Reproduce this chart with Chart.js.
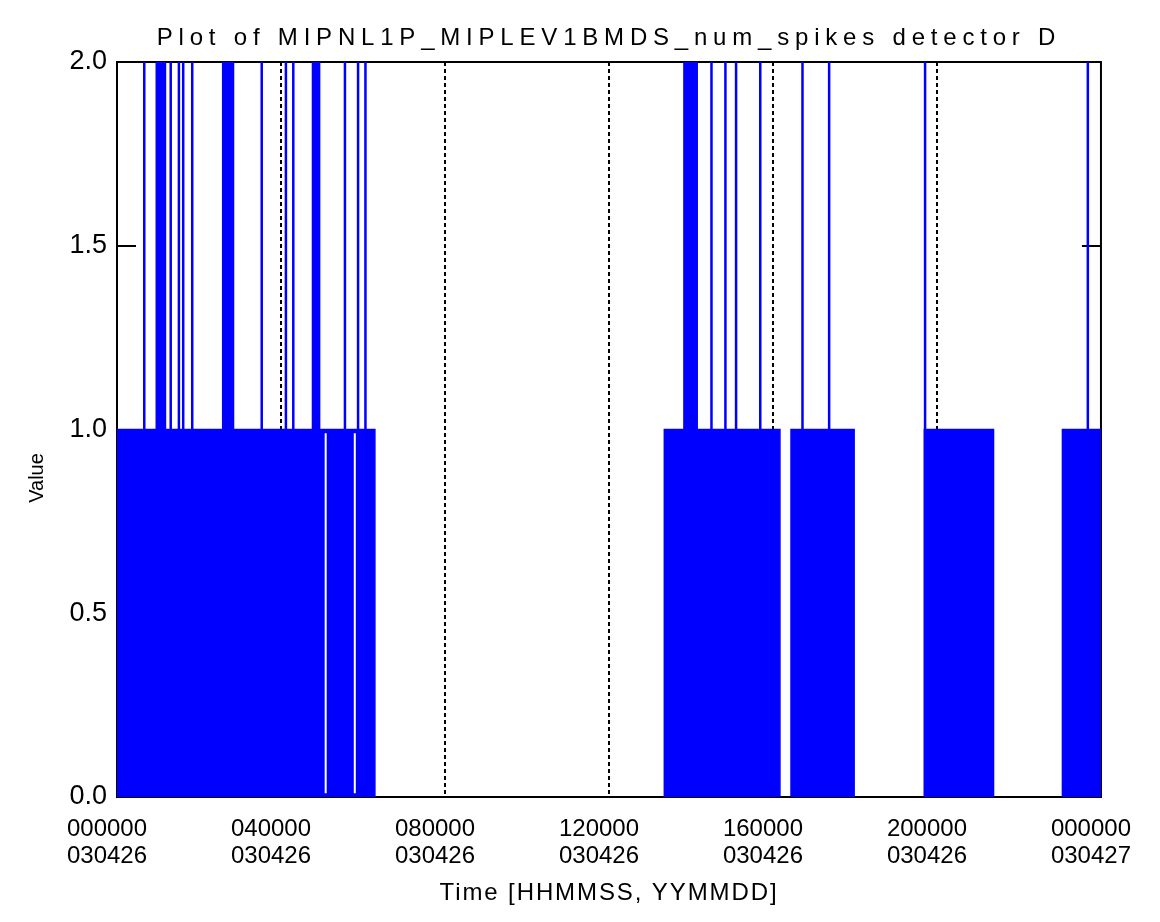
<!DOCTYPE html>
<html>
<head>
<meta charset="utf-8">
<title>MIPNL1P_MIPLEV1BMDS_num_spikes detector D</title>
<script src="https://cdn.jsdelivr.net/npm/chart.js@4.4.0/dist/chart.umd.min.js"></script>
<style>
  html, body { margin: 0; padding: 0; background: #fff; }
  #wrap { position: relative; width: 1160px; height: 922px; }
</style>
</head>
<body>
<div id="wrap"><canvas id="spikesChart"></canvas></div>
<script>
// ===== Data (time in hours since 000000 030426) =====
const tickHours = [0, 4, 8, 12, 16, 20, 24];
const tickTimes = ['000000', '040000', '080000', '120000', '160000', '200000', '000000'];
const tickDates = ['030426', '030426', '030426', '030426', '030426', '030426', '030427'];
const valueTicks = [0, 0.5, 1, 1.5, 2];

// stretches where the count flips 0/1 every sample (reads as a solid block)
const blockStart = [0.00, 13.35, 16.44, 19.69, 23.06];
const blockEnd   = [6.29, 16.17, 17.98, 21.38, 24.00];

// samples that reach 2 spikes
const spikeTimes = [
  0.665, 0.97, 1.02, 1.07, 1.12, 1.17, 1.31, 1.51, 1.615, 1.835,
  2.59, 2.64, 2.69, 2.74, 2.79, 2.83, 3.53, 4.12, 4.30,
  4.78, 4.83, 4.88, 4.93, 5.56, 5.88, 6.06,
  13.84, 13.89, 13.94, 13.99, 14.04, 14.09, 14.14, 14.50, 14.84, 15.10, 15.69,
  16.72, 17.37, 19.71, 23.68
];

// short dropouts inside the first block
const gapTimes = [5.09, 5.80];

const TITLE = 'Plot of MIPNL1P_MIPLEV1BMDS_num_spikes detector D';
const XTITLE = 'Time [HHMMSS, YYMMDD]';
const YTITLE = 'Value';
const BLUE = '#0000ff';
const FONT = "'Liberation Sans', Arial, sans-serif";

// --- build datasets ---
const blockSets = blockStart.map((s, i) => ({
  data: [{ x: s, y: 0 }, { x: s, y: 1 }, { x: blockEnd[i], y: 1 }, { x: blockEnd[i], y: 0 }],
  borderColor: BLUE,
  backgroundColor: BLUE,
  borderWidth: 1.5,
  fill: 'origin',
  pointRadius: 0,
  order: 3
}));

const spikeSet = {
  data: spikeTimes.flatMap(t => [{ x: t, y: 1 }, { x: t, y: 2 }, { x: t, y: null }]),
  borderColor: BLUE,
  borderWidth: 2.5,
  fill: false,
  pointRadius: 0,
  order: 2
};

const gapSet = {
  data: gapTimes.flatMap(t => [{ x: t, y: 0.01 }, { x: t, y: 0.99 }, { x: t, y: null }]),
  borderColor: '#ffffff',
  borderWidth: 2,
  fill: false,
  pointRadius: 0,
  order: 1
};

// --- frame + texts drawn IDL style ---
const framePlugin = {
  id: 'frame',
  beforeDatasetsDraw(chart) {
    const { ctx, chartArea: a } = chart;
    ctx.save();
    ctx.strokeStyle = '#000';
    ctx.lineWidth = 2;
    ctx.strokeRect(a.left, a.top, a.right - a.left, a.bottom - a.top);
    ctx.restore();
  }
};

const textPlugin = {
  id: 'idlText',
  afterDraw(chart) {
    const { ctx, chartArea: a } = chart;
    const cx = (a.left + a.right) / 2;
    ctx.save();
    ctx.fillStyle = '#000';
    ctx.textAlign = 'center';
    ctx.textBaseline = 'middle';
    ctx.font = '24px ' + FONT;
    ctx.letterSpacing = '5.8px';
    ctx.fillText(TITLE, cx, 38);
    ctx.letterSpacing = '1.9px';
    ctx.fillText(XTITLE, cx, 893);
    // y title sits a bit below the middle, as in the IDL plot
    ctx.letterSpacing = '0px';
    ctx.font = '20px ' + FONT;
    ctx.translate(37, 478);
    ctx.rotate(-Math.PI / 2);
    ctx.fillText(YTITLE, 0, 0);
    ctx.restore();
  }
};

const setTicks = list => scale => { scale.ticks = list.map(v => ({ value: v })); };

new Chart(document.getElementById('spikesChart'), {
  type: 'line',
  data: { datasets: [...blockSets, spikeSet, gapSet] },
  options: {
    responsive: true,
    maintainAspectRatio: false,
    animation: false,
    parsing: false,
    normalized: true,
    layout: { padding: { top: 62, left: 0, right: 0, bottom: 0 } },
    plugins: {
      legend: { display: false },
      tooltip: { enabled: false },
      title: { display: false }
    },
    scales: {
      x: {
        type: 'linear',
        position: 'bottom',
        min: 0,
        max: 24,
        afterBuildTicks: setTicks(tickHours),
        afterFit: s => { s.height = 125; },
        ticks: {
          autoSkip: false,
          maxRotation: 0,
          padding: 19,
          labelOffset: -10,
          color: '#000',
          font: { family: FONT, size: 24, lineHeight: 1.12 },
          callback: (v, i) => [tickTimes[i], tickDates[i]]
        },
        grid: {
          drawTicks: false,
          lineWidth: 2,
          color: c => (c.tick && c.tick.value > 0 && c.tick.value < 24) ? '#000' : 'rgba(0,0,0,0)'
        },
        border: { display: false, dash: [4, 3] }
      },
      y: {
        type: 'linear',
        position: 'left',
        min: 0,
        max: 2,
        afterBuildTicks: setTicks(valueTicks),
        afterFit: s => { s.width = 117; },
        ticks: {
          padding: 29,
          color: '#000',
          font: { family: FONT, size: 27 },
          callback: v => v.toFixed(1)
        },
        grid: { drawOnChartArea: false, drawTicks: true, tickLength: -19, color: '#000', lineWidth: 2 },
        border: { display: false }
      },
      y2: {
        type: 'linear',
        position: 'right',
        min: 0,
        max: 2,
        afterBuildTicks: setTicks(valueTicks),
        afterFit: s => { s.width = 58; },
        ticks: { callback: () => '' },
        grid: { drawOnChartArea: false, drawTicks: true, tickLength: -19, color: '#000', lineWidth: 2 },
        border: { display: false }
      }
    }
  },
  plugins: [framePlugin, textPlugin]
});
</script>
</body>
</html>
